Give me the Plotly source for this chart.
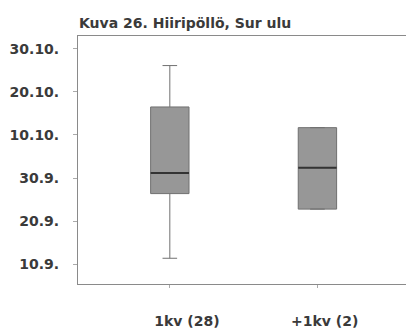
import plotly.graph_objects as go

# Days counted from 1 September (1.9. = 0)
categories = ["1kv (28)", "+1kv (2)"]
lower_whisker = [10.4, 21.8]
q1 = [25.4, 21.8]
median = [30.2, 31.4]
q3 = [45.5, 40.7]
upper_whisker = [55.1, 40.7]

tick_days = [9, 19, 29, 39, 49, 59]
tick_labels = ["10.9.", "20.9.", "30.9.", "10.10.", "20.10.", "30.10."]

# category labels sit a little right of their tick marks
label_pad = [7, 3]
x_ticktext = ["\u00a0" * p + c for p, c in zip(label_pad, categories)]

BOX_W = 0.26
font_family = "DejaVu Sans, sans-serif"
text_font = dict(family=font_family, size=14, color="#3a3a3a", weight="bold")

fig = go.Figure()
fig.add_trace(go.Box(
    x=categories,
    q1=q1, median=median, q3=q3,
    lowerfence=lower_whisker, upperfence=upper_whisker,
    width=BOX_W,
    whiskerwidth=0.38,
    fillcolor="#979797",
    line=dict(color="#707070", width=1),
    boxpoints=False,
    showlegend=False,
))

# darker median bars drawn across each box
for i, m in enumerate(median):
    fig.add_shape(type="line", xref="x", yref="y",
                  x0=i - BOX_W / 2, x1=i + BOX_W / 2, y0=m, y1=m,
                  line=dict(color="#333333", width=2))

fig.update_layout(
    width=406, height=329,
    margin=dict(l=78, r=0, t=36, b=41),
    paper_bgcolor="white", plot_bgcolor="white",
    font=text_font,
    title=dict(text="Kuva 26. Hiiripöllö, Sur ulu", x=79 / 406, xanchor="left",
               y=1 - 23.5 / 329, yanchor="middle",
               font=text_font),
    xaxis=dict(range=[-0.622, 1.6], showgrid=False, zeroline=False,
               showline=True, linecolor="#8a8a8a", linewidth=1, mirror=True,
               tickvals=categories, ticktext=x_ticktext,
               ticks="outside", ticklen=3, tickcolor="#aaaaaa",
               ticklabelstandoff=21,
               tickfont=text_font),
    yaxis=dict(range=[4.43, 61.96], showgrid=False, zeroline=False,
               showline=True, linecolor="#8a8a8a", linewidth=1,
               tickvals=tick_days, ticktext=tick_labels,
               ticks="outside", ticklen=4, tickcolor="#aaaaaa",
               ticklabelstandoff=11,
               tickfont=text_font),
)

fig.write_html("out.html")
